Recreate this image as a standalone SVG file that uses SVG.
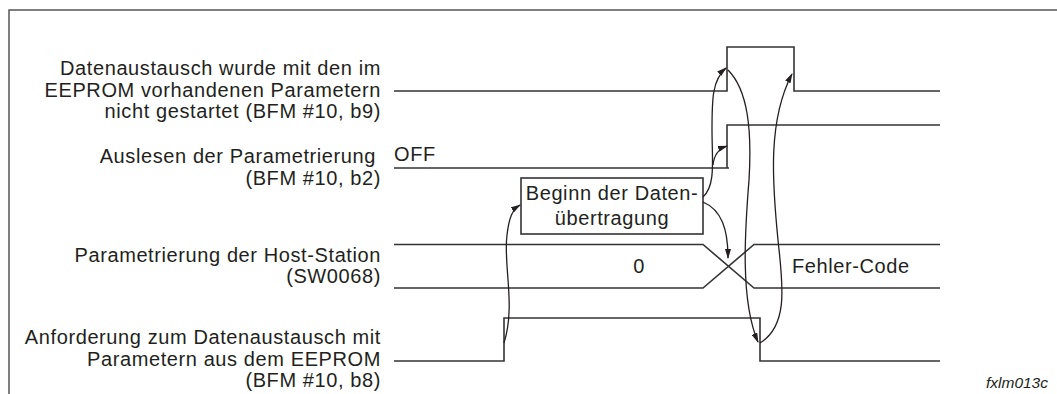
<svg xmlns="http://www.w3.org/2000/svg" width="1057" height="394" viewBox="0 0 1057 394">
<defs>
<style>
text{font-family:"Liberation Sans",Arial,sans-serif;fill:#231f20}
.lbl{font-size:20px;letter-spacing:0.6px;text-anchor:end}
.t{font-size:20px;letter-spacing:0.6px}
.sig{stroke:#333;stroke-width:1.6;fill:none}
.con{stroke:#231f20;stroke-width:1.3;fill:none;marker-end:url(#ah)}
</style>
<marker id="ah" viewBox="0 0 10 6" refX="9" refY="3" markerWidth="10" markerHeight="6" markerUnits="userSpaceOnUse" orient="auto">
<path d="M0,0 L10,3 L0,6 Z" fill="#231f20"/>
</marker>
</defs>
<rect width="1057" height="394" fill="#fff"/>
<path d="M9,394 V10 H1057" fill="none" stroke="#555" stroke-width="1.5"/>

<g id="sig-b9">
<text class="lbl" x="381" y="75">Datenaustausch wurde mit den im</text>
<text class="lbl" x="381" y="97">EEPROM vorhandenen Parametern</text>
<text class="lbl" x="381" y="118">nicht gestartet (BFM #10, b9)</text>
<path class="sig" d="M394,91 H727 V47 H794 V91 H940"/>
</g>

<g id="sig-b2">
<text class="lbl" x="376" y="163">Auslesen der Parametrierung</text>
<text class="lbl" x="381" y="185">(BFM #10, b2)</text>
<text class="t" x="394" y="161">OFF</text>
<path class="sig" d="M394,168 H729 M727,168 V125 H940"/>
</g>

<g id="sig-sw0068">
<text class="lbl" x="381" y="262">Parametrierung der Host-Station</text>
<text class="lbl" x="381" y="283">(SW0068)</text>
<path class="sig" d="M394,244.5 H703 L754,288 H940 M394,288 H703 L754,244.5 H940"/>
<text class="t" x="639" y="273" text-anchor="middle">0</text>
<text class="t" x="792" y="273">Fehler-Code</text>
</g>

<g id="sig-b8">
<text class="lbl" x="381" y="344">Anforderung zum Datenaustausch mit</text>
<text class="lbl" x="381" y="366">Parametern aus dem EEPROM</text>
<text class="lbl" x="381" y="387">(BFM #10, b8)</text>
<path class="sig" d="M394,361 H504 V318 H760 V361 H940"/>
</g>

<g id="box">
<rect x="521" y="178" width="182" height="56" fill="#fff" stroke="#333" stroke-width="1.6"/>
<text class="t" x="612" y="200" text-anchor="middle">Beginn der Daten-</text>
<text class="t" x="612" y="225" text-anchor="middle">übertragung</text>
</g>

<g id="connectors">
<path class="con" d="M504,343 C516,305 503,265 507,235 C509,218 512,210 520,205"/>
<path class="con" d="M703,197 C716,185 712,160 712,130 C712,100 712,80 726,68"/>
<path class="con" d="M713,165 C714,155 718,149 727,146"/>
<path class="con" d="M728,70 C748,90 752,130 749,180 C745,230 740,300 758,342"/>
<path class="con" d="M760,343 C790,325 782,280 778,240 C772,180 768,120 792,74"/>
<path class="con" d="M703,202 C722,210 728,230 728,258"/>
</g>

<text x="1048" y="388" font-size="15.5" font-style="italic" text-anchor="end">fxlm013c</text>
</svg>
